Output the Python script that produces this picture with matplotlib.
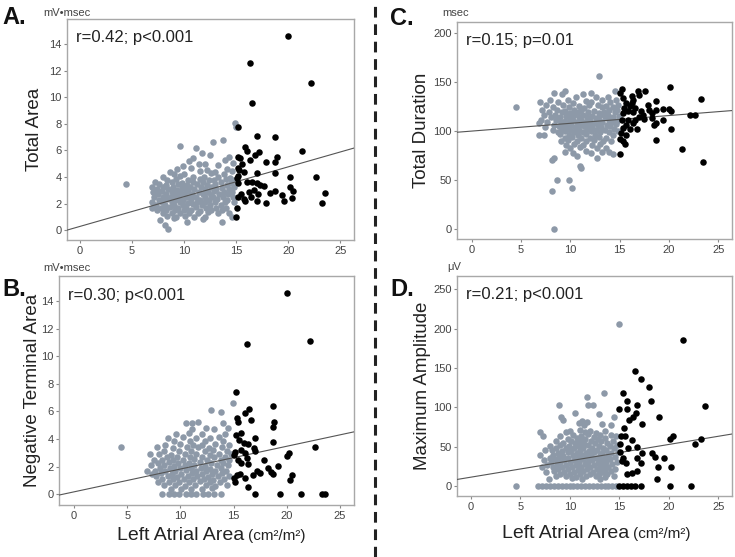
import matplotlib
matplotlib.use("Agg")
import matplotlib.pyplot as plt
from matplotlib.lines import Line2D

plt.rcParams["font.family"] = ["Liberation Sans", "DejaVu Sans"]

GREY = "#8d99a8"
BLACK = "#000000"

# ---- Panel A: Total Area (mV*msec) ----
a_grey_x = [14.9, 14.95, 13.75, 12.8, 9.6, 11.1, 11.7, 12.5,
            14.3, 10.9, 10.45, 13.9, 11.4, 14.7, 12.0, 13.3, 9.9,
            9.3, 10.7, 12.2, 14.1, 8.6, 11.5, 13.0, 14.6, 9.0, 10.0, 12.6, 13.8,
            8.0, 9.6, 10.9, 11.9, 13.3, 14.4,
            8.4, 9.2, 10.4, 11.5, 12.4, 12.9, 14.0, 14.8,
            7.2, 8.8, 9.8, 10.9, 11.8, 13.5, 14.5,
            4.45, 7.6, 8.3, 9.4, 10.3, 11.2, 12.2, 13.0, 14.1,
            6.9, 8.0, 8.9, 9.8, 10.6, 11.6, 12.6, 13.6, 14.8,
            7.4, 8.5, 9.3, 10.1, 11.0, 12.0, 13.1, 14.3,
            7.0, 7.9, 8.8, 9.6, 10.4, 11.4, 12.3, 12.9, 13.8, 14.6,
            7.5, 8.3, 9.2, 10.0, 10.8, 11.8, 12.6, 13.4, 14.2,
            7.1, 8.0, 8.7, 9.5, 10.3, 11.1, 12.0, 12.8, 13.7, 14.7,
            7.6, 8.4, 9.1, 9.9, 10.7, 11.5, 12.4, 13.2, 14.1,
            6.9, 7.9, 8.8, 9.6, 10.4, 11.2, 12.0, 13.0, 13.9, 14.8,
            7.3, 8.2, 9.0, 9.9, 10.9, 11.7, 12.5, 13.5,
            6.9, 7.8, 8.6, 9.4, 10.2, 11.1, 12.1, 13.1, 14.0,
            7.4, 8.3, 9.1, 10.0, 10.7, 11.5, 12.6, 13.6,
            8.0, 8.8, 9.6, 10.5, 11.3, 12.3, 13.3, 14.3,
            8.4, 9.2, 10.1, 11.0, 12.0, 14.6,
            7.7, 9.0, 11.85, 10.3, 13.6, 8.2, 8.45]
a_grey_y = [8.1, 7.8, 6.8, 6.6, 6.3, 6.15, 5.8, 5.65,
            5.5, 5.45, 5.2, 5.25, 5.0, 5.05, 4.95, 4.9, 4.85,
            4.6, 4.65, 4.55, 4.6, 4.4, 4.45, 4.38, 4.42, 4.25, 4.2, 4.28, 4.22,
            4.0, 4.05, 3.98, 4.02, 4.0, 3.95,
            3.8, 3.82, 3.78, 3.85, 3.8, 3.75, 3.82, 3.78,
            3.6, 3.62, 3.58, 3.6, 3.65, 3.6, 3.55,
            3.44, 3.45, 3.42, 3.48, 3.4, 3.45, 3.43, 3.47, 3.4,
            3.25, 3.27, 3.22, 3.25, 3.28, 3.23, 3.25, 3.2, 3.26,
            3.08, 3.1, 3.05, 3.1, 3.12, 3.06, 3.1, 3.08,
            2.9, 2.92, 2.88, 2.9, 2.94, 2.87, 2.9, 2.92, 2.88, 2.9,
            2.7, 2.72, 2.68, 2.7, 2.74, 2.7, 2.66, 2.7, 2.72,
            2.5, 2.48, 2.52, 2.5, 2.47, 2.53, 2.5, 2.48, 2.5, 2.52,
            2.3, 2.32, 2.28, 2.3, 2.33, 2.27, 2.3, 2.32, 2.28,
            2.1, 2.08, 2.12, 2.1, 2.07, 2.13, 2.1, 2.08, 2.1, 2.12,
            1.9, 1.92, 1.88, 1.9, 1.93, 1.88, 1.9, 1.92,
            1.7, 1.68, 1.72, 1.7, 1.67, 1.73, 1.7, 1.68, 1.7,
            1.5, 1.52, 1.48, 1.5, 1.53, 1.47, 1.5, 1.52,
            1.3, 1.28, 1.32, 1.3, 1.27, 1.33, 1.3, 1.28,
            1.05, 1.0, 1.08, 0.98, 1.02, 1.0,
            0.75, 0.88, 0.8, 0.63, 0.63, 0.38, 0.05]
a_black_x = [20.03, 16.35, 22.2, 16.5, 15.2, 17.05, 18.75, 15.9, 16.06, 17.2,
             21.3, 16.8, 15.2, 15.4, 16.3, 18.9, 17.9, 18.75, 15.55, 15.15,
             15.3, 15.8, 17.0, 18.75, 15.2, 15.1, 20.2, 22.7, 16.0, 16.5,
             17.0, 17.3, 17.7, 19.4, 20.2, 20.5, 23.56, 23.3, 18.3, 18.7,
             20.4, 19.6, 17.85, 16.96, 15.9, 15.2, 15.5, 16.2, 16.7, 16.4,
             15.75, 15.1, 15.0, 17.1, 15.2]
a_black_y = [14.64, 12.56, 11.1, 9.57, 7.76, 7.1, 6.98, 6.28, 5.98, 5.9,
             5.93, 5.65, 5.53, 5.45, 5.27, 5.48, 5.15, 5.1, 4.97, 4.65,
             4.52, 4.4, 4.32, 4.32, 4.07, 3.9, 4.02, 4.02, 3.64, 3.6,
             3.52, 3.39, 3.35, 2.64, 3.27, 2.94, 2.76, 2.06, 2.76, 2.96,
             2.44, 2.19, 2.06, 2.16, 2.19, 2.51, 2.71, 2.89, 3.01, 2.51,
             2.34, 1.63, 0.98, 2.71, 3.57]
a_fit = [0.28, 0.224]  # intercept, slope

# ---- Panel B: Negative Terminal Area (mV*msec) ----
b_grey_x = [14.95, 12.85, 13.8, 10.5, 11.1, 11.7, 14.05, 12.4, 14.5, 11.1, 13.2,
            9.55, 10.8, 12.0, 14.2, 8.8, 10.2, 11.5, 12.8, 13.6, 9.4, 10.9, 12.3, 14.0,
            8.6, 10.0, 11.2, 12.0, 13.3, 14.6,
            4.45, 7.8, 9.3, 10.6, 11.7, 12.7, 13.9,
            8.5, 9.9, 11.0, 12.3, 13.1, 14.4,
            7.1, 8.0, 9.1, 10.4, 11.5, 12.8, 13.6, 14.8,
            8.7, 9.7, 10.9, 12.0, 13.2, 14.2,
            7.5, 8.3, 9.3, 10.2, 11.3, 12.5, 13.8, 14.6,
            7.9, 8.9, 9.8, 10.8, 11.8, 12.9, 14.0,
            7.2, 8.5, 9.4, 10.4, 11.3, 12.3, 13.4, 14.5,
            8.1, 9.0, 10.0, 11.0, 11.9, 12.8, 13.8,
            6.9, 7.6, 8.6, 9.5, 10.5, 11.5, 12.4, 13.3, 14.3,
            7.3, 8.2, 9.2, 10.1, 11.1, 12.0, 13.0, 13.9,
            7.7, 8.8, 9.7, 10.7, 11.6, 12.6, 13.5, 14.6,
            8.3, 9.3, 10.3, 11.2, 12.2, 13.1, 14.1,
            7.9, 8.9, 9.9, 10.8, 11.8, 12.8, 13.7,
            8.5, 9.5, 10.4, 11.4, 12.4, 13.3, 14.4,
            9.1, 10.1, 11.0, 12.0, 13.0,
            8.3, 8.9, 9.4, 9.9, 10.5, 11.0, 11.5, 12.1, 12.6, 13.2, 13.8]
b_grey_y = [6.6, 6.1, 5.97, 5.13, 5.15, 5.2, 5.13, 4.8, 4.77, 4.7, 4.72,
            4.4, 4.42, 4.38, 4.4, 4.1, 4.12, 4.08, 4.1, 4.12, 3.85, 3.87, 3.83, 3.85,
            3.6, 3.62, 3.58, 3.6, 3.63, 3.57,
            3.4, 3.42, 3.38, 3.4, 3.43, 3.37, 3.4,
            3.15, 3.17, 3.13, 3.15, 3.18, 3.12,
            2.9, 2.92, 2.88, 2.9, 2.93, 2.87, 2.9, 2.92,
            2.7, 2.72, 2.68, 2.7, 2.73, 2.67,
            2.5, 2.52, 2.48, 2.5, 2.53, 2.47, 2.5, 2.52,
            2.3, 2.32, 2.28, 2.3, 2.33, 2.27, 2.3,
            2.1, 2.12, 2.08, 2.1, 2.13, 2.07, 2.1, 2.12,
            1.9, 1.92, 1.88, 1.9, 1.93, 1.87, 1.9,
            1.7, 1.72, 1.68, 1.7, 1.73, 1.67, 1.7, 1.72, 1.68,
            1.5, 1.52, 1.48, 1.5, 1.53, 1.47, 1.5, 1.52,
            1.3, 1.32, 1.28, 1.3, 1.33, 1.27, 1.3, 1.32,
            1.1, 1.12, 1.08, 1.1, 1.13, 1.07, 1.1,
            0.9, 0.92, 0.88, 0.9, 0.93, 0.87, 0.9,
            0.65, 0.67, 0.63, 0.65, 0.68, 0.62, 0.65,
            0.4, 0.42, 0.38, 0.4, 0.43,
            0.0, 0.0, 0.0, 0.0, 0.0, 0.0, 0.0, 0.0, 0.0, 0.0, 0.0]
b_black_x = [19.99, 16.3, 22.2, 15.2, 18.7, 16.45, 16.1, 16.6, 15.3, 15.4,
             18.8, 18.7, 15.7, 15.2, 17.0, 15.5, 16.0, 16.4, 16.9, 18.7,
             22.65, 17.0, 15.1, 15.0, 16.1, 20.2, 20.0, 15.4, 16.3, 17.9,
             15.7, 16.4, 17.2, 18.2, 18.5, 19.2, 17.5, 18.7, 15.3, 15.6,
             15.0, 15.1, 16.1, 16.8, 20.5, 20.3, 16.4, 17.0, 19.4, 21.3,
             23.3, 23.6, 15.7]
b_black_y = [14.6, 10.9, 11.1, 7.4, 6.4, 6.2, 5.9, 5.4, 5.5, 5.25,
             5.25, 4.9, 4.45, 4.3, 4.05, 3.93, 3.73, 3.64, 3.33, 3.76,
             3.44, 3.13, 3.08, 2.84, 3.0, 2.96, 2.77, 2.48, 2.6, 2.48,
             2.24, 2.17, 1.71, 1.88, 1.64, 2.07, 1.52, 1.45, 1.4, 1.5,
             1.16, 0.92, 1.16, 1.4, 1.4, 1.03, 0.55, 0.0, 0.0, 0.0,
             0.0, 0.0, 3.2]
b_fit = [0.18, 0.165]

# ---- Panel C: Total Duration (msec) ----
c_grey_x = [12.9, 9.5, 14.5, 8.3, 12.1, 9.1, 11.3, 10.6, 12.6, 13.8,
            7.9, 9.8, 11.6, 13.2, 14.6, 6.9, 8.7, 10.3, 12.1, 14.0,
            7.5, 9.2, 10.9, 11.9, 12.8, 13.6, 14.8,
            4.45, 8.2, 9.9, 11.4, 13.2, 14.3,
            7.1, 8.6, 9.5, 10.4, 11.1, 12.4, 13.9, 14.7,
            7.8, 9.1, 10.0, 10.8, 11.8, 12.9, 13.4, 14.5,
            7.3, 8.4, 9.6, 10.4, 11.3, 12.2, 13.0, 13.8, 14.9,
            8.0, 8.9, 10.0, 10.9, 11.7, 12.6, 13.5, 14.3,
            7.0, 8.5, 9.4, 10.3, 11.1, 12.0, 12.9, 13.9, 14.7,
            6.8, 7.6, 9.0, 9.8, 10.7, 11.5, 12.4, 13.2, 14.2,
            8.3, 9.2, 10.1, 11.0, 11.9, 12.8, 13.7, 14.6,
            7.4, 8.8, 9.6, 10.5, 11.4, 12.2, 13.1, 14.0,
            8.2, 9.1, 10.0, 10.9, 11.7, 12.6, 13.5, 14.4,
            8.7, 9.5, 10.4, 11.3, 12.1, 13.0, 13.9, 14.8,
            6.85, 7.3, 8.9, 9.9, 10.8, 11.6, 12.5, 14.3,
            9.4, 10.2, 11.1, 12.0, 12.9, 13.6,
            9.0, 9.8, 10.7, 11.6, 12.4, 13.3, 14.1,
            9.6, 10.4, 11.3, 12.2, 13.0,
            10.0, 11.0, 12.7, 13.6,
            9.4, 11.6, 13.2, 13.9,
            10.3, 12.1, 14.3,
            10.7, 8.3, 12.7, 8.1, 11.0, 11.1, 8.65, 9.9, 10.2, 8.15, 8.3]
c_grey_y = [156, 141, 141, 139, 139, 137, 137, 134, 134, 134,
            131, 131.5, 130.5, 131, 131.5, 129, 129.5, 128.5, 129, 129.5,
            126, 126.5, 125.5, 126, 126.5, 125.5, 126,
            124, 124, 124.5, 123.5, 124, 124.5,
            121, 121.5, 120.5, 121, 121.5, 120.5, 121, 121.5,
            119, 119.5, 118.5, 119, 119.5, 118.5, 119, 119.5,
            116, 116.5, 115.5, 116, 116.5, 115.5, 116, 116.5, 115.5,
            114, 114.5, 113.5, 114, 114.5, 113.5, 114, 114.5,
            111, 111.5, 110.5, 111, 111.5, 110.5, 111, 111.5, 110.5,
            108, 109, 109.5, 108.5, 109, 109.5, 108.5, 109, 109.5,
            106, 106.5, 105.5, 106, 106.5, 105.5, 106, 106.5,
            104, 104.5, 103.5, 104, 104.5, 103.5, 104, 104.5,
            101, 101.5, 100.5, 101, 101.5, 100.5, 101, 101.5,
            99, 99.5, 98.5, 99, 99.5, 98.5, 99, 99.5,
            96.2, 96.2, 96.5, 95.5, 96, 96.5, 95.5, 96,
            93, 93.5, 92.5, 93, 93.5, 92.5,
            90, 90.5, 89.5, 90, 90.5, 89.5, 90,
            86, 86.5, 85.5, 86, 86.5,
            83, 83.5, 82.5, 83,
            79, 79.5, 78.5, 79,
            77, 77.5, 76.5,
            74, 72.4, 72, 70.7, 64.6, 62.2, 50.3, 50.3, 41.8, 38.4, 0.3]
c_black_x = [20.1, 23.2, 15.2, 15.0, 16.9, 17.6, 17.0, 16.2, 16.4, 16.2,
             17.9, 18.7, 19.4, 20.0, 20.2, 18.7, 18.0, 17.2, 15.4, 15.3,
             15.8, 16.3, 16.6, 17.4, 18.3, 22.1, 22.6, 18.3, 17.5, 17.0,
             16.6, 15.8, 15.2, 19.4, 18.7, 15.6, 16.3, 15.3, 16.0, 16.8,
             18.5, 20.2, 15.1, 15.6, 15.0, 15.3, 15.5, 18.7, 21.3, 15.0,
             23.5, 15.3, 15.6, 16.0]
c_black_y = [144.9, 132.7, 142.9, 138.8, 140.4, 140.4, 136.0, 135.3, 131.2, 128.6,
             126.8, 130.2, 122.4, 122.4, 120.0, 121.7, 121.7, 120.0, 123.5, 118.4,
             120.0, 119.0, 123.5, 116.6, 118.4, 116.6, 116.6, 113.3, 112.3, 114.3,
             111.5, 111.5, 110.9, 110.8, 108.2, 106.4, 108.2, 103.1, 102.0, 102.0,
             106.4, 102.0, 98.0, 96.2, 91.8, 89.4, 87.0, 90.4, 81.6, 76.5,
             68.4, 133.0, 128.0, 125.0]
c_fit = [99.8, 0.79]

# ---- Panel D: Maximum Amplitude (uV) ----
d_grey_x = [15.0, 13.4, 11.75, 11.8, 12.3, 8.9, 10.5, 12.9, 9.1, 14.5, 9.3, 11.2, 10.9, 11.7, 13.2, 11.4, 14.2,
            10.0, 11.0, 12.0, 13.6, 6.96, 9.6, 11.5, 12.6, 10.3, 11.8, 13.0, 14.2,
            7.3, 9.0, 11.1, 12.4, 14.7, 9.8, 10.7, 11.5, 12.8, 13.5,
            8.6, 10.1, 11.0, 12.1, 13.1, 14.4, 9.3, 10.5, 11.4, 12.5, 13.8,
            8.0, 9.0, 9.9, 10.9, 11.8, 12.9, 14.1, 14.8,
            8.6, 9.6, 10.4, 11.3, 12.2, 13.3, 14.5,
            7.5, 8.2, 9.2, 10.1, 11.0, 11.9, 12.7, 13.7,
            8.8, 9.8, 10.7, 11.6, 12.4, 13.2, 14.2, 14.9,
            7.0, 8.3, 9.3, 10.3, 11.2, 12.1, 13.0, 13.9,
            8.0, 8.9, 9.8, 10.8, 11.7, 12.6, 13.5, 14.6,
            7.4, 8.5, 9.4, 10.4, 11.3, 12.2, 13.1, 14.1,
            8.1, 9.0, 10.0, 10.9, 11.8, 12.8, 13.7, 14.8,
            7.7, 8.7, 9.6, 10.6, 11.5, 12.4, 13.3, 14.3,
            7.2, 8.3, 9.2, 10.2, 11.1, 12.0, 13.0, 13.9,
            8.8, 9.8, 10.8, 11.7, 12.7, 13.6, 14.6,
            7.6, 8.4, 9.4, 10.4, 11.3, 12.3, 13.2, 14.2,
            9.0, 10.0, 11.0, 12.0, 12.9, 13.8,
            8.6, 9.6, 10.6, 11.6, 12.6, 13.5, 14.5,
            7.9, 10.2, 11.2, 13.0,
            4.5, 6.8, 7.2, 7.6, 8.0, 8.4, 8.8, 9.2, 9.6, 10.0, 10.3,
            10.7, 11.1, 11.5, 11.9, 12.3, 12.7, 13.1, 13.5, 13.9, 14.3, 14.7]
d_grey_y = [205.4, 117.6, 112.5, 102.7, 102.7, 102.7, 92.1, 92, 87.8, 88, 83.6, 83, 79.3, 81.5, 79, 77.2, 78,
            70, 70.5, 69.5, 70, 68.7, 68, 68.5, 67.5, 65, 65.5, 64.5, 65,
            63.3, 63, 63.5, 62.5, 63, 60, 60.5, 59.5, 60, 60.5,
            57, 57.5, 56.5, 57, 57.5, 56.5, 54, 54.5, 53.5, 54, 54.5,
            51, 51.5, 50.5, 51, 51.5, 50.5, 51, 51.5,
            48, 48.5, 47.5, 48, 48.5, 47.5, 48,
            45, 45.5, 44.5, 45, 45.5, 44.5, 45, 45.5,
            42, 42.5, 41.5, 42, 42.5, 41.5, 42, 42.5,
            39, 39.5, 38.5, 39, 39.5, 38.5, 39, 39.5,
            36, 36.5, 35.5, 36, 36.5, 35.5, 36, 36.5,
            33, 33.5, 32.5, 33, 33.5, 32.5, 33, 33.5,
            30, 30.5, 29.5, 30, 30.5, 29.5, 30, 30.5,
            27, 27.5, 26.5, 27, 27.5, 26.5, 27, 27.5,
            24, 24.5, 23.5, 24, 24.5, 23.5, 24, 24.5,
            21, 21.5, 20.5, 21, 21.5, 20.5, 21,
            18, 18.5, 17.5, 18, 18.5, 17.5, 18, 18.5,
            15, 15.5, 14.5, 15, 15.5, 14.5,
            12, 12.5, 11.5, 12, 12.5, 11.5, 12,
            9, 9.5, 8.5, 9,
            0, 0, 0, 0, 0, 0, 0, 0, 0, 0, 0,
            0, 0, 0, 0, 0, 0, 0, 0, 0, 0, 0]
d_black_x = [21.45, 16.55, 17.15, 18.05, 15.4, 15.75, 18.2, 23.7, 15.0, 15.75,
             16.8, 16.7, 16.4, 16.0, 19.0, 17.3, 15.5, 15.2, 15.6, 16.3,
             20.4, 20.1, 23.3, 22.7, 15.1, 15.9, 16.8, 17.3, 18.3, 18.6,
             19.5, 15.4, 15.7, 16.8, 17.15, 18.9, 20.2, 16.8, 16.3, 15.8,
             18.8, 15.1, 15.3, 15.0, 15.4, 15.8, 16.2, 16.6, 17.2, 20.1,
             22.2]
d_black_y = [185.5, 146.4, 135.8, 126.0, 117.6, 107.8, 107.8, 101.8, 97.2, 97.2,
             102.3, 92.1, 87.8, 83.6, 87.0, 78.1, 73.0, 63.3, 63.3, 58.2,
             63.3, 59.0, 59.0, 53.1, 53.1, 47.6, 49.3, 41.2, 42.0, 36.9,
             34.9, 34.9, 29.3, 34.9, 29.3, 24.2, 24.2, 19.1, 15.8, 14.5,
             8.9, 43.3, 31.5, 0, 0, 0, 0, 0, 0, 0,
             0]
d_fit = [11.0, 2.08]

X_TICKS = [0, 5, 10, 15, 20, 25]


def draw_panel(ax, gx, gy, bx, by, fit, xlim, ylim, yticks, ylabel, stat_text):
    """One scatter panel: grey (<15) and black (>=15) groups plus regression line."""
    ax.scatter(gx, gy, s=22, color=GREY, linewidths=0, zorder=2)
    xs = list(xlim)
    ax.plot(xs, [fit[0] + fit[1] * x for x in xs], color="#555555", lw=0.8, zorder=3)
    ax.scatter(bx, by, s=22, color=BLACK, linewidths=0, zorder=4)

    ax.set_xlim(xlim)
    ax.set_ylim(ylim)
    ax.set_xticks(X_TICKS)
    ax.set_yticks(yticks)
    for sp in ax.spines.values():
        sp.set_color("#a8a8a8")
        sp.set_linewidth(1.0)
    ax.tick_params(direction="out", length=2.5, width=0.8, color="#888888",
                   labelcolor="#444444", labelsize=8, pad=1.5)
    ax.set_ylabel(ylabel, fontsize=13.5, color="#222222")
    ax.text(0.032, 0.895, stat_text, transform=ax.transAxes, fontsize=12,
            color="#222222", va="baseline", ha="left")


def add_xlabel(ax, y):
    ax.text(0.627, y, "Left Atrial Area", transform=ax.transAxes, fontsize=14,
            color="#222222", ha="right", va="baseline")
    ax.text(0.64, y, "(cm\u00b2/m\u00b2)", transform=ax.transAxes, fontsize=11,
            color="#222222", ha="left", va="baseline")


def main():
    W, H = 735, 557
    fig = plt.figure(figsize=(W / 100, H / 100), dpi=100)

    ax_a = fig.add_axes([0.0912, 0.569, 0.390, 0.397])
    ax_b = fig.add_axes([0.0803, 0.0934, 0.401, 0.411])
    ax_c = fig.add_axes([0.622, 0.571, 0.374, 0.390])
    ax_d = fig.add_axes([0.622, 0.1095, 0.374, 0.395])

    draw_panel(ax_a, a_grey_x, a_grey_y, a_black_x, a_black_y, a_fit,
               (-1.25, 26.3), (-0.75, 15.9), range(0, 15, 2), "Total Area", "r=0.42; p<0.001")
    draw_panel(ax_b, b_grey_x, b_grey_y, b_black_x, b_black_y, b_fit,
               (-1.41, 26.3), (-0.77, 15.8), range(0, 15, 2), "Negative Terminal Area", "r=0.30; p<0.001")
    draw_panel(ax_c, c_grey_x, c_grey_y, c_black_x, c_black_y, c_fit,
               (-1.49, 26.4), (-9.9, 211), range(0, 201, 50), "Total Duration", "r=0.15; p=0.01")
    draw_panel(ax_d, d_grey_x, d_grey_y, d_black_x, d_black_y, d_fit,
               (-1.4, 26.4), (-13, 267), range(0, 251, 50), "Maximum Amplitude", "r=0.21; p<0.001")

    ax_a.yaxis.set_label_coords(-0.084, 0.5)
    ax_b.yaxis.set_label_coords(-0.062, 0.5)
    ax_c.yaxis.set_label_coords(-0.098, 0.5)
    ax_d.yaxis.set_label_coords(-0.095, 0.5)

    add_xlabel(ax_b, -0.153)
    add_xlabel(ax_d, -0.19)

    # units above the y axes
    units = [("mV\u2022msec", 43, 13), ("mV\u2022msec", 43, 268), ("msec", 442, 13), ("\u03bcV", 447, 267)]
    for txt, px, py in units:
        fig.text(px / W, 1 - py / H, txt, fontsize=8, color="#444444", ha="left", va="center")

    # panel letters
    for txt, px, py in [("A.", 2, 6), ("B.", 2, 278), ("C.", 390, 7), ("D.", 390, 278)]:
        fig.text(px / W, 1 - py / H, txt, fontsize=17, fontweight="bold", color="#111111",
                 ha="left", va="top")

    # dashed divider between columns
    fig.add_artist(Line2D([375 / W, 375 / W], [0, 1], transform=fig.transFigure,
                          color="#222222", lw=2.2, linestyle=(0, (3.5, 2.2))))

    fig.savefig("out.png", dpi=100)


if __name__ == "__main__":
    main()
